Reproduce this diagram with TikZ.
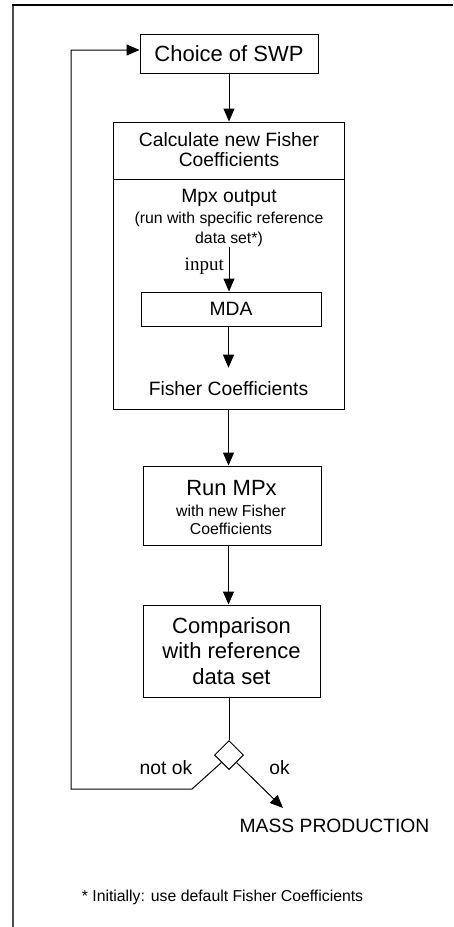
\documentclass[tikz,border=0pt]{standalone}
\usepackage{fontspec}
\setmainfont{Liberation Sans}
\newfontfamily\serifface{Liberation Serif}
\usetikzlibrary{arrows.meta,shapes.geometric}
\begin{document}
\begin{tikzpicture}[x=1pt,y=-1pt,
  box/.style={draw,line width=1pt,inner sep=0pt,align=center},
  flow/.style={line width=1pt,-{Triangle[length=13pt,width=11pt]}},
  plain/.style={line width=1pt},
  big/.style={font=\fontsize{22}{25.5}\selectfont},
  mid/.style={font=\fontsize{19.3}{20}\selectfont},
  small/.style={font=\fontsize{15.8}{19.5}\selectfont},
  txt/.style={inner sep=0pt,align=center}]
\useasboundingbox (0,0) rectangle (453,927);

% page frame (left and top edges only)
\draw[line width=1.3pt,black!70] (13,927) -- (13,5);
\draw[line width=1.3pt] (12.35,5) -- (453,5);

% choice of sweep
\node[box,big,minimum width=178pt,minimum height=39pt] (choice) at (229,53.5) {Choice of SWP};

% calculation block
\node[box,minimum width=231pt,minimum height=287pt] (calcbox) at (228.5,265.5) {};
\coordinate (divider) at (0,179);
\draw[plain] (calcbox.west |- divider) -- (calcbox.east |- divider);
\node[txt,mid] (calc) at (229,150) {Calculate new Fisher\\Coefficients};
\node[txt,mid] (mpxout) at (229,198) {Mpx output};
\node[txt,small,font=\fontsize{15.8}{20}\selectfont] (refset) at (229,229) {(run with specific reference\\data set*)};
\node[txt,anchor=east,font=\serifface\fontsize{19}{20}\selectfont] (input) at (224,266) {input};
\node[box,mid,minimum width=180pt,minimum height=34pt] (mda) at (231,309) {MDA};
\node[txt,mid] (fisher) at (228.5,389) {Fisher Coefficients};

% run block
\node[box,minimum width=178pt,minimum height=79pt] (run) at (232,505.5) {};
\node[txt,big] (runttl) at (231.5,488) {Run MPx};
\node[txt,small,font=\fontsize{15.8}{18}\selectfont] (runsub) at (231,520) {with new Fisher\\Coefficients};

% comparison block
\node[box,big,minimum width=177pt,minimum height=92pt] (comp) at (231.5,651) {Comparison\\with reference\\data set};

% decision
\node[draw,diamond,aspect=1,minimum size=29pt,inner sep=0pt,line width=1pt] (dia) at (229,755) {};
\node[txt,mid] (notok) at (166,768) {not ok};
\node[txt,mid] (ok) at (279.5,768) {ok};
\node[txt,mid] (mass) at (334.5,826) {MASS PRODUCTION};

% footnote
\node[txt,small] (note) at (222.5,897) {* Initially: use default Fisher Coefficients};

% connectors
\draw[flow] (choice.south) -- (choice.south |- calcbox.north);
\draw[flow] (refset.south) -- (refset.south |- mda.north);
\draw[flow,shorten >=14pt] (fisher.north |- mda.south) -- (fisher.north);
\draw[flow] (calcbox.south) -- (calcbox.south |- run.north);
\draw[flow] (calcbox.south |- run.south) -- (calcbox.south |- comp.north);
\draw[plain] (dia.north |- comp.south) -- (dia.north);

\coordinate (bend) at (192,789);
\coordinate (loopb) at (71,789);
\coordinate (loopt) at (71,50);
\draw[flow] (dia.south west) -- (bend) -- (loopb) -- (loopt) -- (loopt -| choice.west);

\coordinate (oktip) at (283,808);
\draw[flow] (dia.south east) -- (oktip);
\end{tikzpicture}
\end{document}
